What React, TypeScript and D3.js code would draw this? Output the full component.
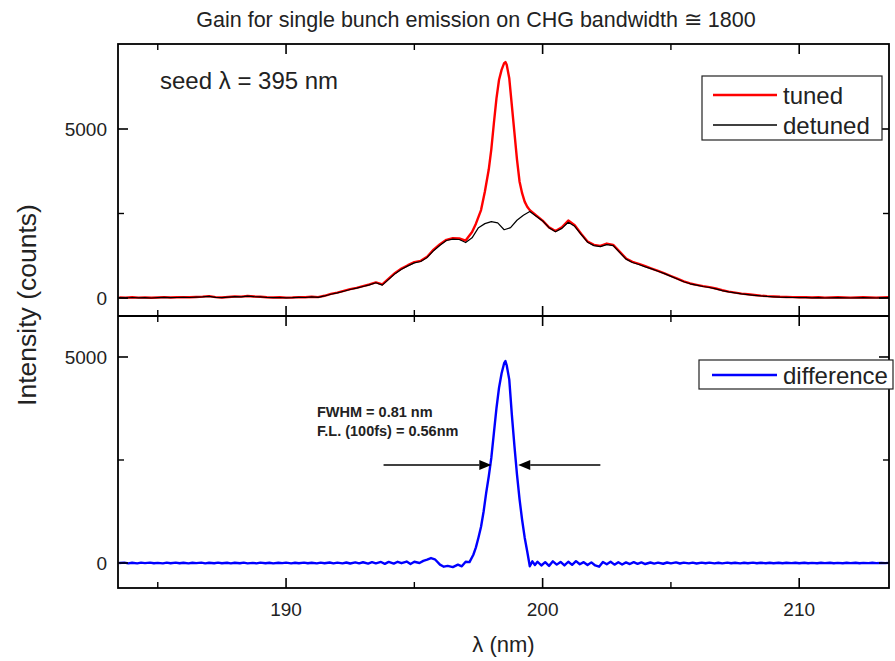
import React from "react";
import * as d3 from "d3";

const TITLE = "Gain for single bunch emission on CHG bandwidth \u2245 1800";
const X_LABEL = "\u03bb (nm)";
const Y_LABEL = "Intensity (counts)";
const SEED_LABEL = "seed \u03bb = 395 nm";
const NOTE_LINES = ["FWHM = 0.81 nm", "F.L. (100fs) = 0.56nm"];

const xMajorTicks = [190, 200, 210];
const xMinorTicks = [185, 195, 205];
const yMajorTicks = [0, 5000];
const yMinorTicks = [2500];

// wavelength (nm), counts
const detuned: [number, number][] = [
  [183.5, 10], [183.75, 0], [184, 15], [184.25, 5], [184.5, 10], [184.75, 0], [185, 10], [185.25, 20],
  [185.5, 10], [185.75, 15], [186, 20], [186.25, 15], [186.5, 25], [186.75, 35], [187, 50], [187.25, 20],
  [187.5, 10], [187.75, 25], [188, 40], [188.25, 35], [188.5, 55], [188.75, 40], [189, 30], [189.25, 15],
  [189.5, 10], [189.75, 15], [190, 5], [190.25, 10], [190.5, 20], [190.75, 15], [191, 30], [191.25, 20],
  [191.5, 60], [191.75, 110], [192, 150], [192.25, 200], [192.5, 250], [192.75, 290], [193, 340], [193.25, 390],
  [193.5, 450], [193.75, 380], [194, 550], [194.25, 720], [194.5, 850], [194.75, 950], [195, 1040], [195.25, 1080],
  [195.5, 1200], [195.75, 1400], [196, 1560], [196.25, 1700], [196.5, 1740], [196.75, 1730], [197, 1640], [197.25, 1780],
  [197.5, 2080], [197.75, 2200], [198, 2260], [198.25, 2220], [198.5, 2020], [198.75, 2080], [199, 2300], [199.25, 2450],
  [199.5, 2560], [199.75, 2420], [200, 2280], [200.25, 2080], [200.5, 1960], [200.75, 2060], [201, 2240], [201.25, 2120],
  [201.5, 1880], [201.75, 1650], [202, 1550], [202.25, 1520], [202.5, 1580], [202.75, 1550], [203, 1350], [203.25, 1150],
  [203.5, 1050], [203.75, 990], [204, 920], [204.25, 860], [204.5, 790], [204.75, 720], [205, 640], [205.25, 560],
  [205.5, 480], [205.75, 420], [206, 380], [206.25, 340], [206.5, 310], [206.75, 270], [207, 220], [207.25, 180],
  [207.5, 150], [207.75, 120], [208, 100], [208.25, 80], [208.5, 60], [208.75, 45], [209, 35], [209.25, 25],
  [209.5, 20], [209.75, 15], [210, 10], [210.25, 10], [210.5, 5], [210.75, 10], [211, 0], [211.25, 5],
  [211.5, 10], [211.75, 5], [212, 0], [212.25, 5], [212.5, 10], [212.75, 5], [213, 0], [213.25, 5], [213.5, 10],
];

const tuned: [number, number][] = [
  [183.5, 15], [183.75, 5], [184, 20], [184.25, 10], [184.5, 15], [184.75, 5], [185, 15], [185.25, 25],
  [185.5, 15], [185.75, 20], [186, 25], [186.25, 20], [186.5, 30], [186.75, 40], [187, 55], [187.25, 25],
  [187.5, 15], [187.75, 30], [188, 45], [188.25, 40], [188.5, 60], [188.75, 45], [189, 35], [189.25, 20],
  [189.5, 15], [189.75, 20], [190, 10], [190.25, 15], [190.5, 25], [190.75, 20], [191, 35], [191.25, 25],
  [191.5, 65], [191.75, 120], [192, 160], [192.25, 210], [192.5, 260], [192.75, 300], [193, 350], [193.25, 400],
  [193.5, 460], [193.75, 400], [194, 570], [194.25, 740], [194.5, 870], [194.75, 970], [195, 1060], [195.25, 1100],
  [195.5, 1220], [195.75, 1430], [196, 1590], [196.25, 1720], [196.5, 1770], [196.75, 1760], [197, 1700], [197.25, 1950],
  [197.4, 2200], [197.5, 2400], [197.6, 2600], [197.75, 3150], [197.9, 3800], [198, 4400], [198.1, 5170], [198.2, 5900],
  [198.3, 6450], [198.4, 6750], [198.5, 6950], [198.55, 6980], [198.6, 6900], [198.7, 6500], [198.8, 5700], [198.9, 4900],
  [199, 4100], [199.1, 3450], [199.2, 3100], [199.3, 2850], [199.4, 2700], [199.5, 2600], [199.75, 2440], [200, 2290],
  [200.25, 2090], [200.5, 1980], [200.75, 2090], [201, 2290], [201.25, 2150], [201.5, 1900], [201.75, 1670], [202, 1570],
  [202.25, 1540], [202.5, 1610], [202.75, 1570], [203, 1370], [203.25, 1170], [203.5, 1070], [203.75, 1010], [204, 940],
  [204.25, 870], [204.5, 800], [204.75, 730], [205, 650], [205.25, 570], [205.5, 490], [205.75, 430], [206, 390],
  [206.25, 350], [206.5, 320], [206.75, 280], [207, 230], [207.25, 190], [207.5, 160], [207.75, 130], [208, 110],
  [208.25, 90], [208.5, 70], [208.75, 55], [209, 45], [209.25, 35], [209.5, 30], [209.75, 25], [210, 20],
  [210.25, 20], [210.5, 15], [210.75, 20], [211, 10], [211.25, 15], [211.5, 20], [211.75, 15], [212, 10],
  [212.25, 15], [212.5, 20], [212.75, 15], [213, 10], [213.25, 15], [213.5, 20],
];

const difference: [number, number][] = [
  [183.5, 0], [183.7, 10], [183.85, -8], [184, 6], [184.2, -10], [184.35, 8], [184.5, -4], [184.7, 10],
  [184.85, -6], [185, 4], [185.2, -10], [185.35, 8], [185.5, -5], [185.7, 9], [185.85, -7], [186, 5],
  [186.2, -9], [186.35, 6], [186.5, -4], [186.7, 10], [186.85, -8], [187, 6], [187.2, -6], [187.35, 9],
  [187.5, -7], [187.7, 5], [187.85, -10], [188, 7], [188.2, -5], [188.35, 9], [188.5, -8], [188.7, 4],
  [188.85, -9], [189, 8], [189.2, -6], [189.35, 5], [189.5, -10], [189.7, 7], [189.85, -4], [190, 9],
  [190.2, -8], [190.35, 6], [190.5, -6], [190.7, 10], [190.85, -7], [191, 5], [191.2, -9], [191.35, 8],
  [191.5, -5], [191.7, 11], [191.85, -10], [192, 8], [192.2, -9], [192.35, 12], [192.5, -12], [192.7, 14],
  [192.85, -8], [193, 18], [193.2, -15], [193.35, 20], [193.5, -10], [193.7, 25], [193.85, -20], [194, 28],
  [194.2, -15], [194.35, 30], [194.5, -5], [194.7, 35], [194.85, -25], [195, 30], [195.2, 0], [195.35, 50],
  [195.5, 80], [195.65, 120], [195.8, 90], [196, -40], [196.15, -90], [196.3, -70], [196.5, -100], [196.7, -40],
  [196.85, -80], [197, 30], [197.15, 20], [197.3, 200], [197.4, 380], [197.5, 620], [197.6, 880], [197.7, 1250],
  [197.8, 1700], [197.9, 2100], [198, 2550], [198.1, 3150], [198.2, 3750], [198.3, 4250], [198.4, 4600], [198.5, 4850],
  [198.55, 4900], [198.6, 4800], [198.7, 4450], [198.8, 3600], [198.9, 2850], [199, 2150], [199.1, 1550], [199.2, 1050],
  [199.3, 620], [199.4, 280], [199.5, -80], [199.6, 40], [199.7, -50], [199.8, 30], [199.95, -60], [200.1, 20],
  [200.25, -70], [200.4, 40], [200.55, -40], [200.7, 25], [200.85, -60], [201, 30], [201.15, -45], [201.3, 45],
  [201.45, -30], [201.6, 20], [201.75, -50], [201.9, 15], [202.05, -60], [202.2, -90], [202.35, 25], [202.5, -30],
  [202.65, 30], [202.8, -40], [202.95, 20], [203.1, -35], [203.25, 15], [203.4, -25], [203.55, 20], [203.7, -20],
  [203.85, 15], [204, -25], [204.2, 12], [204.35, -15], [204.5, 10], [204.7, -18], [204.85, 12], [205, -10],
  [205.2, 14], [205.35, -12], [205.5, 8], [205.7, -10], [205.85, 10], [206, -12], [206.2, 8], [206.35, -6],
  [206.5, 10], [206.7, -9], [206.85, 6], [207, -8], [207.2, 9], [207.35, -5], [207.5, 7], [207.7, -8],
  [207.85, 6], [208, -6], [208.2, 8], [208.35, -7], [208.5, 5], [208.7, -6], [208.85, 7], [209, -5],
  [209.2, 6], [209.35, -7], [209.5, 5], [209.7, -4], [209.85, 6], [210, -5], [210.2, 7], [210.35, -6],
  [210.5, 4], [210.7, -5], [210.85, 6], [211, -4], [211.2, 5], [211.35, -6], [211.5, 4], [211.7, -5],
  [211.85, 5], [212, -4], [212.2, 6], [212.35, -5], [212.5, 4], [212.7, -4], [212.85, 5], [213, -3],
  [213.2, 4], [213.35, -4], [213.5, 3],
];

// FWHM arrows (wavelength from, wavelength tip), at a counts level
const fwhmArrows: [number, number][] = [[193.8, 198.0], [202.25, 199.05]];
const FWHM_LEVEL = 2380;

const W = 895;
const H = 661;
const L = 118;
const R = 889;
const T = 44;
const MID = 316;
const B = 588;
const FONT = "'Liberation Sans', Arial, sans-serif";
const TXT = "#222";

export default function App() {
  const x = d3.scaleLinear().domain([183.45, 213.5]).range([L, R]);
  const yU = d3.scaleLinear().domain([-533, 7515]).range([MID, T]);
  const yL = d3.scaleLinear().domain([-607, 5995]).range([B, MID]);

  const lineU = d3.line<[number, number]>().x((d) => x(d[0])).y((d) => yU(d[1]));
  const lineL = d3.line<[number, number]>().x((d) => x(d[0])).y((d) => yL(d[1]));

  const panel = (y: d3.ScaleLinear<number, number>, top: number, bottom: number, key: string) => (
    <g key={key}>
      {xMajorTicks.map((t) => (
        <g key={"xm" + t}>
          <line x1={x(t)} x2={x(t)} y1={top} y2={top + 10} stroke="#000" strokeWidth={1.6} />
          <line x1={x(t)} x2={x(t)} y1={bottom} y2={bottom - 10} stroke="#000" strokeWidth={1.6} />
        </g>
      ))}
      {xMinorTicks.map((t) => (
        <g key={"xn" + t}>
          <line x1={x(t)} x2={x(t)} y1={top} y2={top + 6} stroke="#000" strokeWidth={1.4} />
          <line x1={x(t)} x2={x(t)} y1={bottom} y2={bottom - 6} stroke="#000" strokeWidth={1.4} />
        </g>
      ))}
      {yMajorTicks.map((t) => (
        <g key={"ym" + t}>
          <line x1={L} x2={L + 10} y1={y(t)} y2={y(t)} stroke="#000" strokeWidth={1.6} />
          <line x1={R} x2={R - 10} y1={y(t)} y2={y(t)} stroke="#000" strokeWidth={1.6} />
          <text x={107} y={y(t)} dy="0.35em" textAnchor="end" fontSize={19} fontFamily={FONT} fill={TXT}>
            {t}
          </text>
        </g>
      ))}
      {yMinorTicks.map((t) => (
        <g key={"yn" + t}>
          <line x1={L} x2={L + 6} y1={y(t)} y2={y(t)} stroke="#000" strokeWidth={1.4} />
          <line x1={R} x2={R - 6} y1={y(t)} y2={y(t)} stroke="#000" strokeWidth={1.4} />
        </g>
      ))}
    </g>
  );

  const arrowY = yL(FWHM_LEVEL);

  return (
    <svg
      width={W}
      height={H}
      viewBox={`0 0 ${W} ${H}`}
      style={{ position: "fixed", left: 0, top: 0, background: "#fff" }}
    >
      <defs>
        <clipPath id="clipU">
          <rect x={L} y={T} width={R - L} height={MID - T} />
        </clipPath>
        <clipPath id="clipL">
          <rect x={L} y={MID} width={R - L} height={B - MID} />
        </clipPath>
      </defs>
      <rect x={0} y={0} width={W} height={H} fill="#fff" />

      <text x={476} y={27} textAnchor="middle" fontSize={21.5} fontFamily={FONT} fill={TXT}>
        {TITLE}
      </text>

      <g clipPath="url(#clipU)">
        <path d={lineU(tuned) || ""} fill="none" stroke="#ff0000" strokeWidth={2.4} strokeLinejoin="round" />
        <path d={lineU(detuned) || ""} fill="none" stroke="#000" strokeWidth={1.2} strokeLinejoin="round" />
      </g>
      <g clipPath="url(#clipL)">
        <path d={lineL(difference) || ""} fill="none" stroke="#0000ff" strokeWidth={2.4} strokeLinejoin="round" />
      </g>

      {panel(yU, T, MID, "u")}
      {panel(yL, MID, B, "l")}

      <rect x={L} y={T} width={R - L} height={B - T} fill="none" stroke="#000" strokeWidth={1.8} />
      <line x1={L} x2={R} y1={MID} y2={MID} stroke="#000" strokeWidth={1.8} />

      <text x={160} y={89} fontSize={24} fontFamily={FONT} fill={TXT}>
        {SEED_LABEL}
      </text>

      {/* upper legend */}
      <rect x={702} y={76} width={180} height={64} fill="#fff" stroke="#222" strokeWidth={1.2} />
      <line x1={713} x2={777} y1={95} y2={95} stroke="#ff0000" strokeWidth={2.4} />
      <text x={783} y={103.5} fontSize={24} fontFamily={FONT} fill={TXT}>tuned</text>
      <line x1={713} x2={777} y1={125} y2={125} stroke="#000" strokeWidth={1.4} />
      <text x={783} y={133.5} fontSize={24} fontFamily={FONT} fill={TXT}>detuned</text>

      {/* lower legend */}
      <rect x={699} y={360} width={194} height={29} fill="#fff" stroke="#222" strokeWidth={1.2} />
      <line x1={712} x2={777} y1={375} y2={375} stroke="#0000ff" strokeWidth={2.4} />
      <text x={783} y={383.5} fontSize={24} fontFamily={FONT} fill={TXT}>difference</text>

      {/* annotation */}
      {NOTE_LINES.map((s, i) => (
        <text key={s} x={317} y={417 + i * 18.5} fontSize={14.5} fontWeight="bold" fontFamily={FONT} fill={TXT}>
          {s}
        </text>
      ))}
      {fwhmArrows.map(([from, tip], i) => {
        const xf = x(from);
        const xt = x(tip);
        const dir = xt > xf ? 1 : -1;
        const hl = 12;
        return (
          <g key={"arr" + i}>
            <line x1={xf} x2={xt - dir * hl} y1={arrowY} y2={arrowY} stroke="#000" strokeWidth={1.5} />
            <path
              d={`M${xt},${arrowY} L${xt - dir * hl},${arrowY - 5} L${xt - dir * hl},${arrowY + 5} Z`}
              fill="#000"
            />
          </g>
        );
      })}

      {xMajorTicks.map((t) => (
        <text key={"xl" + t} x={x(t)} y={616} textAnchor="middle" fontSize={19} fontFamily={FONT} fill={TXT}>
          {t}
        </text>
      ))}
      <text x={(L + R) / 2} y={652} textAnchor="middle" fontSize={22} fontFamily={FONT} fill={TXT}>
        {X_LABEL}
      </text>
      <text
        transform={`translate(36,305) rotate(-90)`}
        textAnchor="middle"
        fontSize={26.5}
        fontFamily={FONT}
        fill={TXT}
      >
        {Y_LABEL}
      </text>
    </svg>
  );
}
